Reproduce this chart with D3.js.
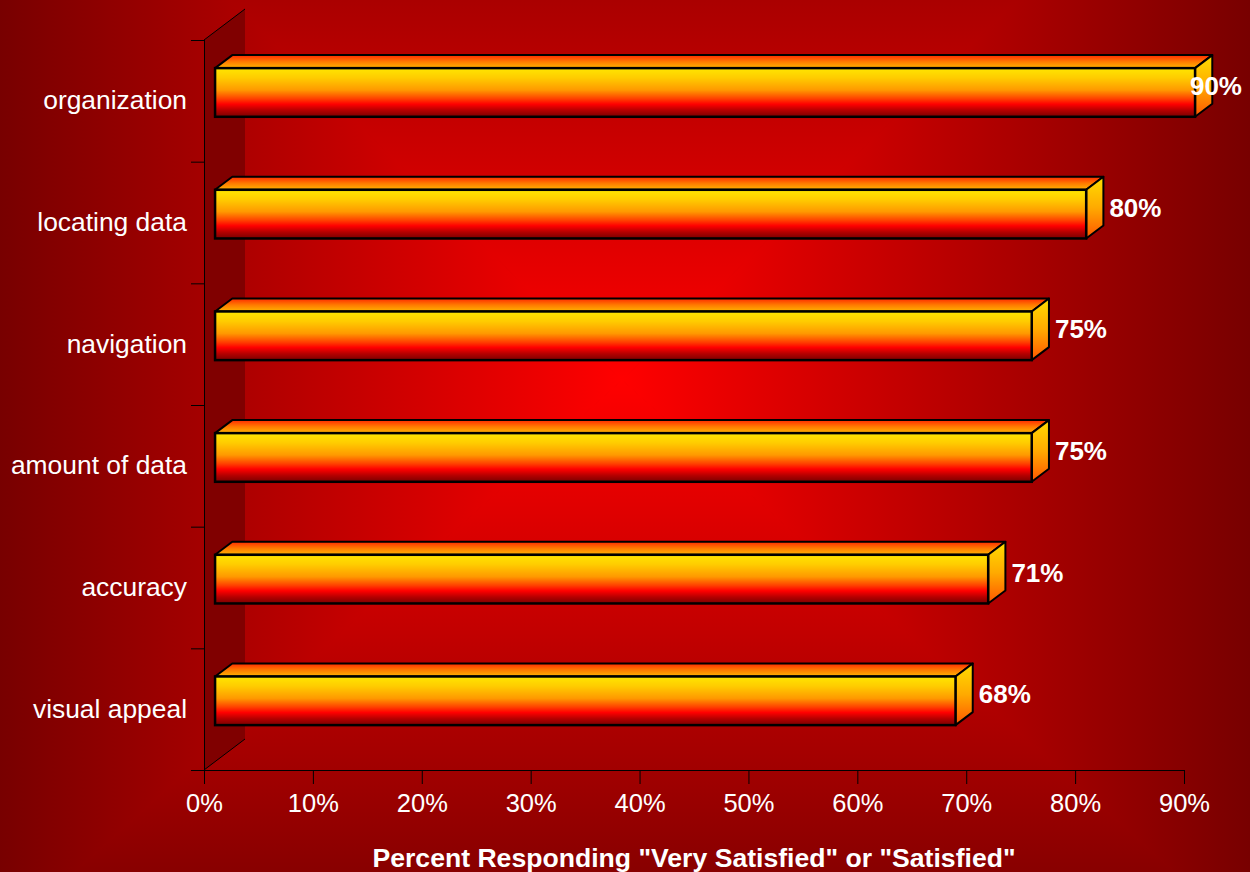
<!DOCTYPE html>
<html>
<head>
<meta charset="utf-8">
<script src="https://cdn.jsdelivr.net/npm/d3@7"></script>
<style>
  html, body { margin: 0; padding: 0; background: #780000; }
  svg { display: block; }
  text { font-family: "Liberation Sans", Arial, sans-serif; fill: #fff; }
</style>
</head>
<body>
<svg id="chart" width="1250" height="872"></svg>
<script>
// Survey results: share of respondents "Very Satisfied" or "Satisfied"
const categories = ["organization", "locating data", "navigation", "amount of data", "accuracy", "visual appeal"];
const values = [90, 80, 75, 75, 71, 68];
const tickValues = [0, 10, 20, 30, 40, 50, 60, 70, 80, 90];
const axisTitle = 'Percent Responding "Very Satisfied" or "Satisfied"';

const W = 1250, H = 872;
const svg = d3.select("#chart");
const defs = svg.append("defs");

// Plot geometry (front plane of the 3D box)
const x = d3.scaleLinear().domain([0, 90]).range([204, 1184]);
const y = d3.scaleBand().domain(categories).range([40, 770]);
const yBar = d3.scaleBand().domain(categories).range([40, 770]).paddingInner(0.6).paddingOuter(0.3);

// Depth vector of the box and the slice occupied by the bars
const depth = { dx: 41, dy: -31 };
const barFront = 0.27, barBack = 0.69;
const off = f => [depth.dx * f, depth.dy * f];

// ---- background: rectangular "from centre" gradient built from four triangles
const C = [622, 380];
const box = { x0: 0, x1: W, y0: -223, y1: 939 };
const edge = "#780000", mid = "#ff0000";
function linGrad(id, x1, y1, x2, y2) {
  const g = defs.append("linearGradient").attr("id", id)
    .attr("gradientUnits", "userSpaceOnUse")
    .attr("x1", x1).attr("y1", y1).attr("x2", x2).attr("y2", y2);
  g.append("stop").attr("offset", 0).attr("stop-color", edge);
  g.append("stop").attr("offset", 1).attr("stop-color", mid);
}
linGrad("bgTop", 0, box.y0, 0, C[1]);
linGrad("bgBottom", 0, box.y1, 0, C[1]);
linGrad("bgLeft", box.x0, 0, C[0], 0);
linGrad("bgRight", box.x1, 0, C[0], 0);
const bg = svg.append("g");
bg.append("rect").attr("width", W).attr("height", H).attr("fill", "#a00000");
const tris = [
  ["bgTop", [[box.x0, box.y0], [box.x1, box.y0], C]],
  ["bgBottom", [[box.x0, box.y1], [box.x1, box.y1], C]],
  ["bgLeft", [[box.x0, box.y0], [box.x0, box.y1], C]],
  ["bgRight", [[box.x1, box.y0], [box.x1, box.y1], C]]
];
bg.selectAll("polygon").data(tris).join("polygon")
  .attr("points", d => d[1].map(p => p.join(",")).join(" "))
  .attr("fill", d => `url(#${d[0]})`)
  .attr("stroke", d => `url(#${d[0]})`)
  .attr("stroke-width", 1);

// ---- bar gradients
function vGrad(id, stops) {
  const g = defs.append("linearGradient").attr("id", id)
    .attr("x1", 0).attr("y1", 0).attr("x2", 0).attr("y2", 1);
  stops.forEach(s => g.append("stop").attr("offset", s[0]).attr("stop-color", s[1]));
}
vGrad("barFront", [[0, "#ffe600"], [0.2, "#ffcc00"], [0.45, "#ff9900"], [0.63, "#ff4000"],
  [0.74, "#ff0000"], [0.87, "#b40000"], [1, "#7a0000"]]);
vGrad("barTop", [[0, "#ff2a00"], [0.5, "#ff7a00"], [1, "#ffb400"]]);
vGrad("barSide", [[0, "#ffdd00"], [0.5, "#ffaa00"], [1, "#ff5500"]]);

// ---- left wall
const x0 = x(0), yTop = 40, yBot = 770;
const wall = svg.append("g");
wall.append("polygon")
  .attr("points", [[x0, yTop], [x0 + depth.dx, yTop + depth.dy], [x0 + depth.dx, yBot + depth.dy], [x0, yBot]]
    .map(p => p.join(",")).join(" "))
  .attr("fill", "#800000");
wall.append("line").attr("x1", x0).attr("y1", yTop).attr("x2", x0 + depth.dx).attr("y2", yTop + depth.dy)
  .attr("stroke", "#000").attr("stroke-width", 1);
wall.append("line").attr("x1", x0).attr("y1", yBot).attr("x2", x0 + depth.dx).attr("y2", yBot + depth.dy)
  .attr("stroke", "#000").attr("stroke-width", 1);

// ---- axes
const xAxis = d3.axisBottom(x).tickValues(tickValues).tickFormat(d => d + "%")
  .tickSize(14).tickSizeOuter(0).tickPadding(10);
const gx = svg.append("g").attr("transform", `translate(0,${yBot})`).call(xAxis);
gx.select(".domain").attr("stroke", "#000").attr("d", `M${x0 - 13},0.5H${x(90)}`);
gx.selectAll(".tick line").attr("stroke", "#000");
gx.selectAll(".tick text").attr("fill", "#fff").attr("font-size", 25.5)
  .attr("font-family", '"Liberation Sans", Arial, sans-serif').attr("dy", "0.71em");

// category ticks on the wall edge
const yAxis = d3.axisLeft(y).tickSize(0).tickPadding(17);
const gy = svg.append("g").attr("transform", `translate(${x0},0)`).call(yAxis);
gy.select(".domain").attr("stroke", "#000").attr("d", `M0.5,${yTop}V${yBot}`);
gy.selectAll(".tick text").attr("fill", "#fff").attr("font-size", 26.4)
  .attr("font-family", '"Liberation Sans", Arial, sans-serif').attr("dy", "0.32em");
const bounds = [...categories.map(c => y(c)), yBot];
svg.append("g").selectAll("line").data(bounds).join("line")
  .attr("x1", x0 - 13).attr("x2", x0).attr("y1", d => d + 0.5).attr("y2", d => d + 0.5)
  .attr("stroke", "#000");

// ---- 3D bars
const data = categories.map((c, i) => ({ c, v: values[i] }));
const [fx, fy] = off(barFront);
const [bx, by] = off(barBack);
const bars = svg.append("g").selectAll("g").data(data).join("g");
const pts = a => a.map(p => p.join(",")).join(" ");
bars.each(function (d) {
  const g = d3.select(this);
  const l = x(0) + fx, r = x(d.v) + fx;
  const t = yBar(d.c) + fy, b = yBar(d.c) + yBar.bandwidth() + fy;
  const ddx = bx - fx, ddy = by - fy;
  // top face
  g.append("polygon").attr("points", pts([[l, t], [l + ddx, t + ddy], [r + ddx, t + ddy], [r, t]]))
    .attr("fill", "url(#barTop)").attr("stroke", "#000").attr("stroke-width", 2).attr("stroke-linejoin", "round");
  // end face
  g.append("polygon").attr("points", pts([[r, t], [r + ddx, t + ddy], [r + ddx, b + ddy], [r, b]]))
    .attr("fill", "url(#barSide)").attr("stroke", "#000").attr("stroke-width", 2).attr("stroke-linejoin", "round");
  // front face
  g.append("rect").attr("x", l).attr("y", t).attr("width", r - l).attr("height", b - t)
    .attr("fill", "url(#barFront)").attr("stroke", "#000").attr("stroke-width", 2.5);
});

// value labels
bars.append("text")
  .attr("font-size", 26).attr("font-weight", "bold")
  .attr("y", d => yBar(d.c) + yBar.bandwidth() / 2 + fy + 2.5)
  .text(d => d.v + "%")
  .attr("x", function (d) {
    const w = this.getComputedTextLength();
    return Math.min(x(d.v) + bx + 6, 1242 - w);
  });

// axis title
svg.append("text")
  .attr("x", (x(0) + x(90)) / 2).attr("y", 867)
  .attr("text-anchor", "middle").attr("font-size", 26.6).attr("font-weight", "bold")
  .text(axisTitle);
</script>
</body>
</html>
